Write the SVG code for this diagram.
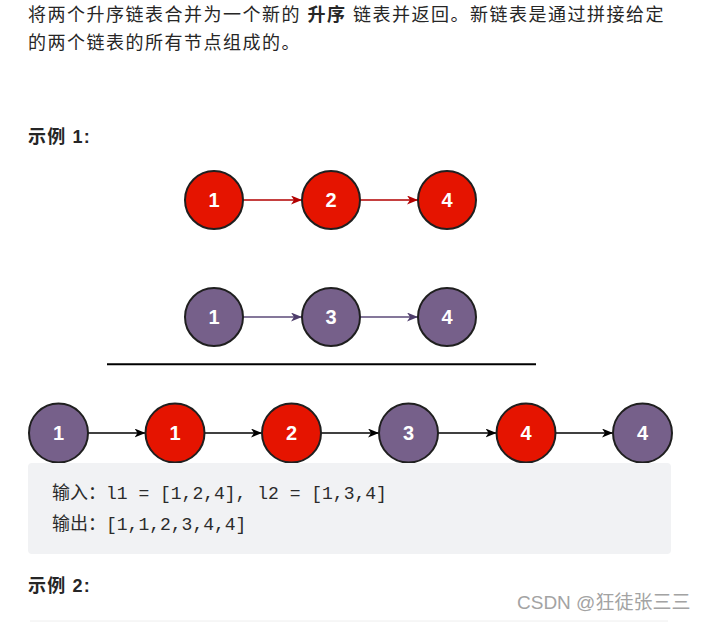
<svg xmlns="http://www.w3.org/2000/svg" width="702" height="623" viewBox="0 0 702 623">
<style>
.body{font-family:"Liberation Sans","Noto Sans CJK SC",sans-serif;fill:#262626}
.intro{font-size:18px;letter-spacing:1.5px}
.h{font-size:18px;font-weight:bold;letter-spacing:1.2px}
.code{font-family:"Liberation Mono","Noto Sans CJK SC",monospace;font-size:18px;fill:#2b2b2b}
.red circle{fill:#e51400;stroke:#1f1f1f;stroke-width:2}
.pur circle{fill:#76608a;stroke:#1f1f1f;stroke-width:2}
.node text{font-family:"Liberation Sans",Arial,sans-serif;font-size:20px;font-weight:bold;fill:#fff;text-anchor:middle}
.ar{fill:none;stroke-width:1.6}
.wm{font-family:"Liberation Sans","Noto Sans CJK SC",sans-serif;font-size:19px;fill:#a3a3a3}
</style>
<defs>
<marker id="mr" viewBox="0 0 11 9" refX="11" refY="4.5" markerWidth="11" markerHeight="9" markerUnits="userSpaceOnUse" orient="auto"><path d="M0,0 L11,4.5 L0,9 L3,4.5 Z" fill="#b20000"/></marker>
<marker id="mp" viewBox="0 0 11 9" refX="11" refY="4.5" markerWidth="11" markerHeight="9" markerUnits="userSpaceOnUse" orient="auto"><path d="M0,0 L11,4.5 L0,9 L3,4.5 Z" fill="#4e3d6b"/></marker>
<marker id="mb" viewBox="0 0 11 9" refX="11" refY="4.5" markerWidth="11" markerHeight="9" markerUnits="userSpaceOnUse" orient="auto"><path d="M0,0 L11,4.5 L0,9 L3,4.5 Z" fill="#000"/></marker>
</defs>
<rect width="702" height="623" fill="#fff"/>
<text class="body intro" x="28" y="21">将两个升序链表合并为一个新的 <tspan font-weight="bold">升序</tspan> 链表并返回。新链表是通过拼接给定</text>
<text class="body intro" x="28" y="49">的两个链表的所有节点组成的。</text>
<text class="body h" x="28" y="143">示例 1:</text>

<g id="connectors">
<line class="ar" x1="243" y1="200" x2="302" y2="200" stroke="#b20000" marker-end="url(#mr)"/>
<line class="ar" x1="360" y1="200" x2="418" y2="200" stroke="#b20000" marker-end="url(#mr)"/>
<line class="ar" x1="243" y1="317" x2="302" y2="317" stroke="#5b4a78" marker-end="url(#mp)"/>
<line class="ar" x1="360" y1="317" x2="418" y2="317" stroke="#5b4a78" marker-end="url(#mp)"/>
<line class="ar" x1="88" y1="433" x2="145.5" y2="433" stroke="#000" marker-end="url(#mb)"/>
<line class="ar" x1="204.5" y1="433" x2="262" y2="433" stroke="#000" marker-end="url(#mb)"/>
<line class="ar" x1="321" y1="433" x2="379" y2="433" stroke="#000" marker-end="url(#mb)"/>
<line class="ar" x1="438" y1="433" x2="496.5" y2="433" stroke="#000" marker-end="url(#mb)"/>
<line class="ar" x1="555.5" y1="433" x2="613" y2="433" stroke="#000" marker-end="url(#mb)"/>
</g>

<g id="a1" class="node red"><circle cx="214" cy="200" r="29"/><text x="214" y="207">1</text></g>
<g id="a2" class="node red"><circle cx="331" cy="200" r="29"/><text x="331" y="207">2</text></g>
<g id="a4" class="node red"><circle cx="447" cy="200" r="29"/><text x="447" y="207">4</text></g>
<g id="b1" class="node pur"><circle cx="214" cy="317" r="29"/><text x="214" y="324">1</text></g>
<g id="b3" class="node pur"><circle cx="331" cy="317" r="29"/><text x="331" y="324">3</text></g>
<g id="b4" class="node pur"><circle cx="447" cy="317" r="29"/><text x="447" y="324">4</text></g>

<line x1="107" y1="364.3" x2="536" y2="364.3" stroke="#000" stroke-width="2"/>

<g id="c1" class="node pur"><circle cx="58.5" cy="433" r="29.5"/><text x="58.5" y="440">1</text></g>
<g id="c2" class="node red"><circle cx="175" cy="433" r="29.5"/><text x="175" y="440">1</text></g>
<g id="c3" class="node red"><circle cx="291.5" cy="433" r="29.5"/><text x="291.5" y="440">2</text></g>
<g id="c4" class="node pur"><circle cx="408.5" cy="433" r="29.5"/><text x="408.5" y="440">3</text></g>
<g id="c5" class="node red"><circle cx="526" cy="433" r="29.5"/><text x="526" y="440">4</text></g>
<g id="c6" class="node pur"><circle cx="642.5" cy="433" r="29.5"/><text x="642.5" y="440">4</text></g>

<rect x="28" y="463" width="643" height="91" rx="4" fill="#f1f2f4"/>
<text class="code" x="52" y="499">输入：l1 = [1,2,4], l2 = [1,3,4]</text>
<text class="code" x="52" y="530">输出：[1,1,2,3,4,4]</text>

<text class="body h" x="28" y="592">示例 2:</text>
<text class="wm" x="517" y="609">CSDN @狂徒张三三</text>
<line x1="30" y1="621" x2="668" y2="621" stroke="#eeeeee" stroke-width="1"/>
</svg>
